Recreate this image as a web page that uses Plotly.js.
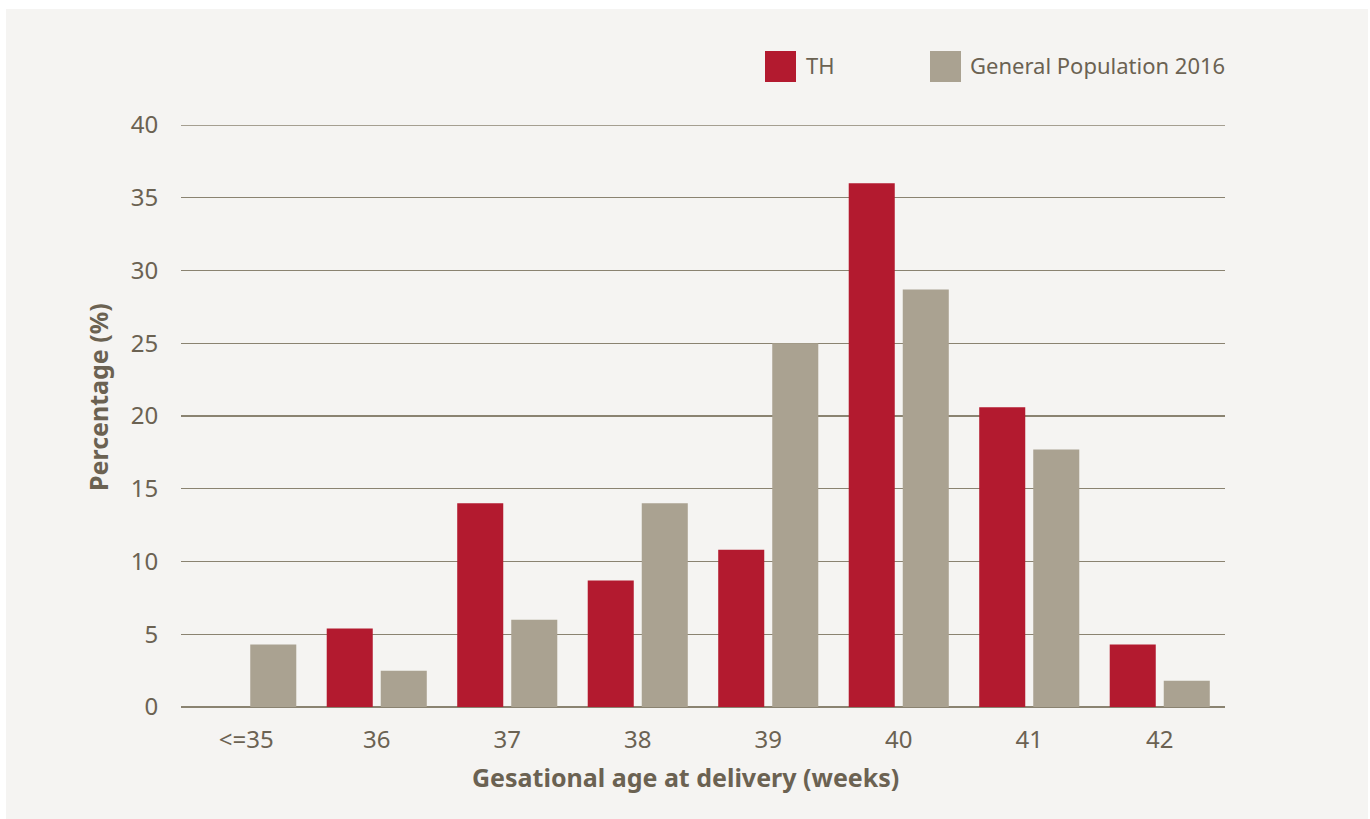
<!DOCTYPE html>
<html>
<head>
<meta charset="utf-8">
<script src="https://cdn.plot.ly/plotly-3.0.1.min.js"></script>
<style>
html,body{margin:0;padding:0;background:#ffffff;width:1370px;height:819px;overflow:hidden;}
#chart{position:absolute;left:6px;top:9px;width:1362px;height:810px;}
</style>
</head>
<body>
<div id="chart"></div>
<script>
const categories = ["<=35", "36", "37", "38", "39", "40", "41", "42"];
const thValues = [null, 5.4, 14.0, 8.7, 10.8, 36.0, 20.6, 4.3];
const gpValues = [4.3, 2.5, 6.0, 14.0, 25.0, 28.7, 17.7, 1.8];
const seriesNames = ["TH", "General Population 2016"];
const yTicks = [0, 5, 10, 15, 20, 25, 30, 35, 40];
const yMax = 40;

const red = "#b31a2f";
const gray = "#aaa291";
const textColor = "#6b6252";
const gridColor = "#8a8371";
const fontFamily = "'Noto Sans', sans-serif";

const traces = [
  {type: "bar", x: categories, y: thValues, name: seriesNames[0], marker: {color: red}, showlegend: false},
  {type: "bar", x: categories, y: gpValues, name: seriesNames[1], marker: {color: gray}, showlegend: false}
];

const layout = {
  width: 1362, height: 810,
  margin: {l: 175, r: 143, t: 116, b: 112},
  paper_bgcolor: "#f5f4f2",
  plot_bgcolor: "#f5f4f2",
  barmode: "group",
  bargap: 0.172,
  bargroupgap: 0.148,
  font: {family: fontFamily, color: textColor, size: 21},
  xaxis: {
    type: "category",
    tickfont: {size: 24, color: textColor, family: fontFamily},
    showgrid: false, zeroline: false, showline: false,
    ticks: "outside", ticklen: 11, tickcolor: "rgba(0,0,0,0)"
  },
  yaxis: {
    range: [0, yMax],
    tickvals: yTicks,
    tickfont: {size: 24, color: textColor, family: fontFamily},
    showgrid: true, gridcolor: gridColor, gridwidth: 1.4,
    zeroline: true, zerolinecolor: gridColor, zerolinewidth: 2,
    showline: false,
    ticks: "outside", ticklen: 17, tickcolor: "rgba(0,0,0,0)"
  },
  shapes: [
    {type: "line", xref: "paper", yref: "y", x0: 0, x1: 1, y0: yMax, y1: yMax, line: {color: gridColor, width: 1.4}, layer: "below"},
    {type: "rect", xref: "paper", yref: "paper", x0: (765-181)/1044, x1: (796-181)/1044, y0: (707-82)/582, y1: (707-51)/582, fillcolor: red, line: {width: 0}},
    {type: "rect", xref: "paper", yref: "paper", x0: (930-181)/1044, x1: (961-181)/1044, y0: (707-82)/582, y1: (707-51)/582, fillcolor: gray, line: {width: 0}}
  ],
  annotations: [
    {xref: "paper", yref: "paper", x: (804-181)/1044, y: (707-65)/582, xanchor: "left", yanchor: "middle", text: seriesNames[0], showarrow: false, font: {size: 22, color: textColor, family: fontFamily}},
    {xref: "paper", yref: "paper", x: (968-181)/1044, y: (707-65)/582, xanchor: "left", yanchor: "middle", text: seriesNames[1], showarrow: false, font: {size: 22, color: textColor, family: fontFamily}},
    {xref: "paper", yref: "paper", x: (685-181)/1044, y: (707-777)/582, xanchor: "center", yanchor: "middle", text: "<b>Gesational age at delivery (weeks)</b>", showarrow: false, font: {size: 25, color: textColor, family: fontFamily}},
    {xref: "paper", yref: "paper", x: (98-181)/1044, y: (707-397)/582, xanchor: "center", yanchor: "middle", textangle: -90, text: "<b>Percentage (%)</b>", showarrow: false, font: {size: 25, color: textColor, family: fontFamily}}
  ]
};

Plotly.newPlot("chart", traces, layout, {displayModeBar: false, staticPlot: true});
</script>
</body>
</html>
